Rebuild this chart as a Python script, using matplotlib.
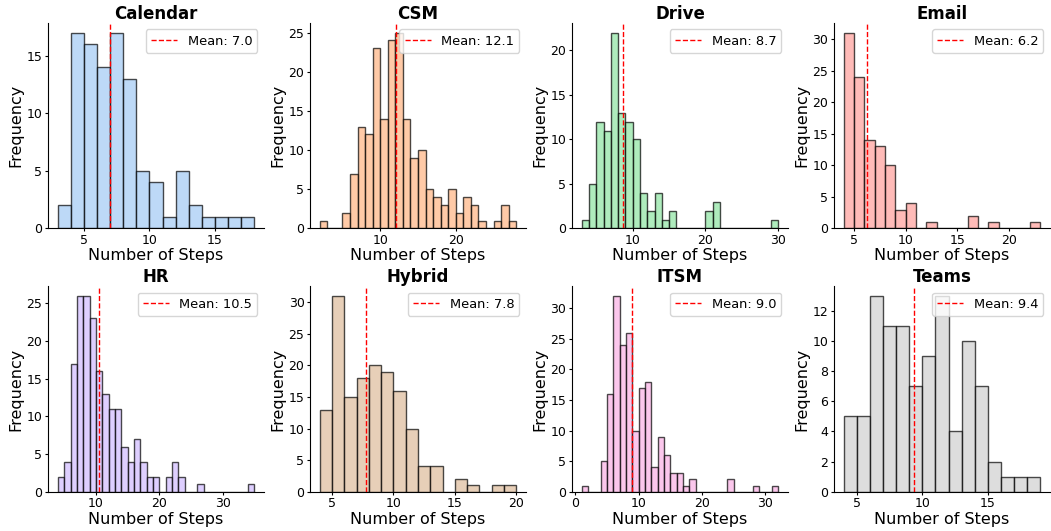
import numpy as np
import matplotlib.pyplot as plt
from matplotlib.ticker import MaxNLocator

# bins are 1 step wide, starting at the first value of each domain
domains = ["Calendar", "CSM", "Drive", "Email", "HR", "Hybrid", "ITSM", "Teams"]
starts = [3, 2, 3, 4, 4, 4, 1, 4]
means = [7.0, 12.1, 8.7, 6.2, 10.5, 7.8, 9.0, 9.4]

calendar = [2, 17, 16, 14, 17, 13, 5, 4, 1, 5, 2, 1, 1, 1, 1]
csm = [1, 0, 0, 2, 7, 13, 12, 23, 14, 24, 25, 14, 9, 10, 5, 4, 3, 5, 2, 4, 3, 1, 0, 1, 3, 1]
drive = [1, 5, 12, 11, 22, 13, 12, 10, 4, 2, 4, 1, 2, 0, 0, 0, 0, 2, 3, 0, 0, 0, 0, 0, 0, 0, 1]
email = [31, 24, 14, 13, 10, 3, 4, 0, 1, 0, 0, 0, 2, 0, 1, 0, 0, 0, 1]
hr = [2, 4, 17, 26, 26, 23, 16, 13, 11, 11, 6, 4, 7, 4, 2, 2, 0, 2, 4, 2, 0, 0, 1,
      0, 0, 0, 0, 0, 0, 0, 1]
hybrid = [13, 31, 15, 18, 20, 19, 16, 10, 4, 4, 0, 2, 1, 0, 1, 1]
itsm = [1, 0, 0, 5, 16, 32, 24, 26, 10, 17, 18, 4, 9, 6, 3, 3, 1, 2, 0, 0, 0, 0, 0,
        2, 0, 0, 0, 1, 0, 0, 1]
teams = [5, 5, 13, 11, 11, 7, 9, 13, 4, 10, 7, 2, 1, 1, 1]

counts = [calendar, csm, drive, email, hr, hybrid, itsm, teams]

colors = ["#a1c9f4", "#ffb482", "#8de5a1", "#ff9f9b",
          "#d0bbff", "#debb9b", "#fab0e4", "#cfcfcf"]

fig, axes = plt.subplots(2, 4, figsize=(10.51, 5.31), dpi=100)
fig.subplots_adjust(left=0.0457, right=0.999, top=0.957, bottom=0.074,
                    wspace=0.213, hspace=0.28)

for ax, name, start, cnt, mean, color in zip(axes.flat, domains, starts, counts, means, colors):
    edges = np.arange(start, start + len(cnt) + 1)
    ax.hist(edges[:-1], bins=edges, weights=cnt, color=color, alpha=0.7,
            edgecolor="black")
    ax.axvline(mean, color="red", linestyle="--", linewidth=1.0,
               label=f"Mean: {mean:.1f}")
    ax.set_title(name, fontsize=12, fontweight="bold", pad=3)
    ax.set_xlabel("Number of Steps", fontsize=11.5, labelpad=1)
    ax.set_ylabel("Frequency", fontsize=11.5, labelpad=2)
    ax.yaxis.set_major_locator(MaxNLocator(nbins=7, steps=[1, 2, 2.5, 5, 10]))
    ax.tick_params(labelsize=9, length=2.5, pad=1.5)
    ax.legend(loc="upper right", fontsize=9.4)
    ax.spines["top"].set_visible(False)
    ax.spines["right"].set_visible(False)

plt.savefig("out.png")
